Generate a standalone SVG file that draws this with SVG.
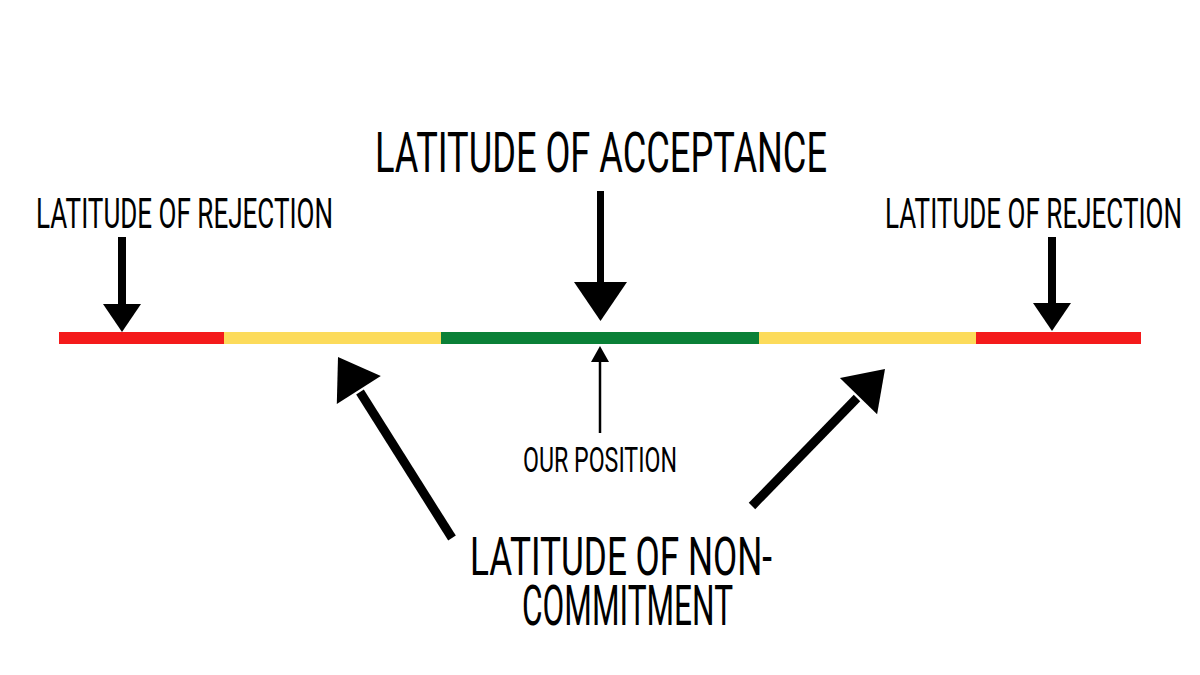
<svg xmlns="http://www.w3.org/2000/svg" width="1200" height="675" viewBox="0 0 1200 675">
  <style>
    .lbl { font-family: Roboto, "Liberation Sans", sans-serif; font-weight: 400; fill: #000; }
    .shaft { stroke: #000; fill: none; stroke-linecap: butt; }
    .head { fill: #000; }
  </style>
  <rect x="0" y="0" width="1200" height="675" fill="#fff"/>

  <g id="scale-bar">
    <rect x="59" y="332" width="165" height="12" fill="#f41a1b"/>
    <rect x="224" y="332" width="217" height="12" fill="#fcdb5b"/>
    <rect x="441" y="332" width="318" height="12" fill="#0a8037"/>
    <rect x="759" y="332" width="217" height="12" fill="#fcdb5b"/>
    <rect x="976" y="332" width="165" height="12" fill="#f41a1b"/>
  </g>

  <g id="label-acceptance">
    <text class="lbl" x="375" y="172" font-size="56" textLength="452" lengthAdjust="spacingAndGlyphs">LATITUDE OF ACCEPTANCE</text>
  </g>
  <g id="label-rejection-left">
    <text class="lbl" x="36" y="228" font-size="42" textLength="297" lengthAdjust="spacingAndGlyphs">LATITUDE OF REJECTION</text>
  </g>
  <g id="label-rejection-right">
    <text class="lbl" x="885" y="228" font-size="42" textLength="297" lengthAdjust="spacingAndGlyphs">LATITUDE OF REJECTION</text>
  </g>
  <g id="label-our-position">
    <text class="lbl" x="523" y="472" font-size="35" textLength="154" lengthAdjust="spacingAndGlyphs">OUR POSITION</text>
  </g>
  <g id="label-non-commitment">
    <text class="lbl" x="470" y="575" font-size="54" textLength="302" lengthAdjust="spacingAndGlyphs">LATITUDE OF NON-</text>
    <text class="lbl" x="522" y="625" font-size="55" textLength="211" lengthAdjust="spacingAndGlyphs">COMMITMENT</text>
  </g>

  <g id="connectors">
    <!-- rejection left -->
    <line class="shaft" x1="122" y1="237" x2="122" y2="306" stroke-width="8"/>
    <polygon class="head" points="103,304 141,304 122,332"/>
    <!-- rejection right -->
    <line class="shaft" x1="1052" y1="237" x2="1052" y2="305" stroke-width="8"/>
    <polygon class="head" points="1033,303 1071,303 1052,331"/>
    <!-- acceptance -->
    <line class="shaft" x1="600.5" y1="191" x2="600.5" y2="284" stroke-width="7"/>
    <polygon class="head" points="574,282 627,282 600.5,321"/>
    <!-- our position -->
    <line class="shaft" x1="600" y1="433" x2="600" y2="360" stroke-width="2.5"/>
    <polygon class="head" points="591,362 609,362 600,346"/>
    <!-- non-commitment left -->
    <line class="shaft" x1="452" y1="538" x2="360" y2="392" stroke-width="9"/>
    <polygon class="head" points="338,357 380.8,376.1 336.8,403.9"/>
    <!-- non-commitment right -->
    <line class="shaft" x1="752" y1="506" x2="857" y2="398" stroke-width="9"/>
    <polygon class="head" points="885,369 877.1,414.3 839.9,378.1"/>
  </g>
</svg>
